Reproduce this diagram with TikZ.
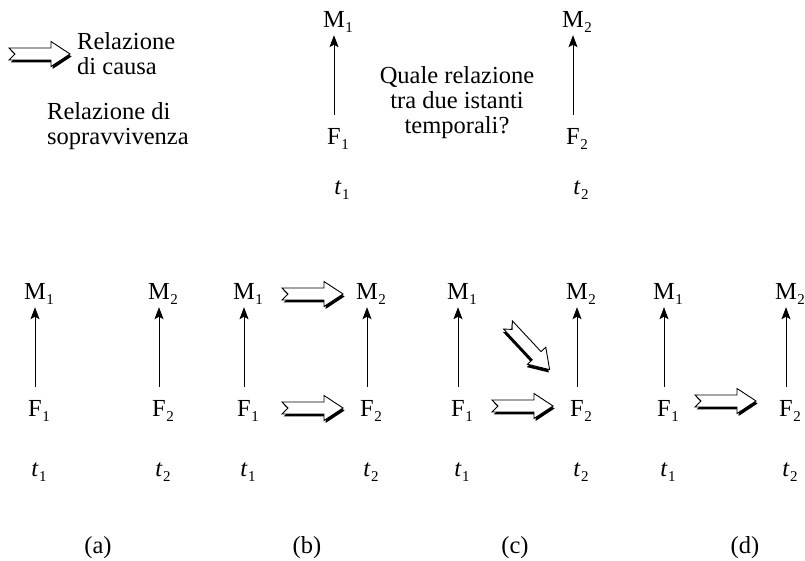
\documentclass[tikz,border=0pt]{standalone}
\usepackage{fontspec}
\setmainfont{Liberation Serif}
\usetikzlibrary{arrows.meta}
\newcommand{\lab}[2]{#1\rlap{\kern0.5pt\raisebox{-5pt}{\fontsize{15}{15}\selectfont #2}}}
\begin{document}
\begin{tikzpicture}[x=1pt,y=1pt,
  lbl/.style={inner sep=0pt, text height=16pt, text depth=0pt, font=\fontsize{24.5}{25}\selectfont},
  txt/.style={inner sep=0pt, font=\fontsize{24.5}{25}\selectfont},
  sv/.style={-{Stealth[length=12pt,width=9pt,inset=2.5pt]}, line width=1pt, shorten <=14pt, shorten >=7pt},
  pics/causa/.style={code={
    \fill[black, shift={(1.6,-2.5)}] (0,6) -- (42,6) -- (42,12.5) -- (61,0) -- (42,-12.5) -- (42,-6) -- (0,-6) -- (6,0) -- cycle;
    \filldraw[fill=white, draw=black, line width=0.9pt, line join=miter] (0,6) -- (42,6) -- (42,12.5) -- (61,0) -- (42,-12.5) -- (42,-6) -- (0,-6) -- (6,0) -- cycle;
  }}]
\useasboundingbox (0,0) rectangle (805,561);
% legend
\pic at (9,507) {causa};
\node[txt, anchor=west, align=left] (lcausa) at (77,507.5) {Relazione\\di causa};
\node[txt, anchor=west, align=left] (lsopr) at (47,434.5) {Relazione di\\sopravvivenza};
% top
\node[lbl] (M1t) at (334,541) {\lab{M}{1}};
\node[lbl] (F1t) at (334,424) {\lab{F}{1}};
\node[lbl] (t1t) at (338,374) {\lab{\textit{t}}{1}};
\node[lbl] (M2t) at (573,541) {\lab{M}{2}};
\node[lbl] (F2t) at (573,424) {\lab{F}{2}};
\node[lbl] (t2t) at (577,374) {\lab{\textit{t}}{2}};
\draw[sv] (F1t) -- (M1t);
\draw[sv] (F2t) -- (M2t);
\node[txt, align=center] (q) at (457,458) {Quale relazione\\tra due istanti\\temporali?};
% bottom
\foreach \x/\i/\n in {35/1/a1,159/2/a2,244/1/b1,367/2/b2,458/1/c1,577/2/c2,664/1/d1,786/2/d2} {
  \node[lbl] (M\n) at (\x,269) {\lab{M}{\i}};
  \node[lbl] (F\n) at (\x,152) {\lab{F}{\i}};
  \node[lbl] (t\n) at (\x,92) {\lab{\textit{t}}{\i}};
  \draw[sv] (F\n) -- (M\n);
}
\pic at (282,267) {causa};
\pic at (282,153) {causa};
\pic at (492,155) {causa};
\pic[rotate=-47] at (508,236) {causa};
\pic at (695,160) {causa};
\node[txt] (la) at (98,13) {(a)};
\node[txt] (lb) at (307,13) {(b)};
\node[txt] (lc) at (515,13) {(c)};
\node[txt] (ld) at (745,13) {(d)};
\end{tikzpicture}
\end{document}
